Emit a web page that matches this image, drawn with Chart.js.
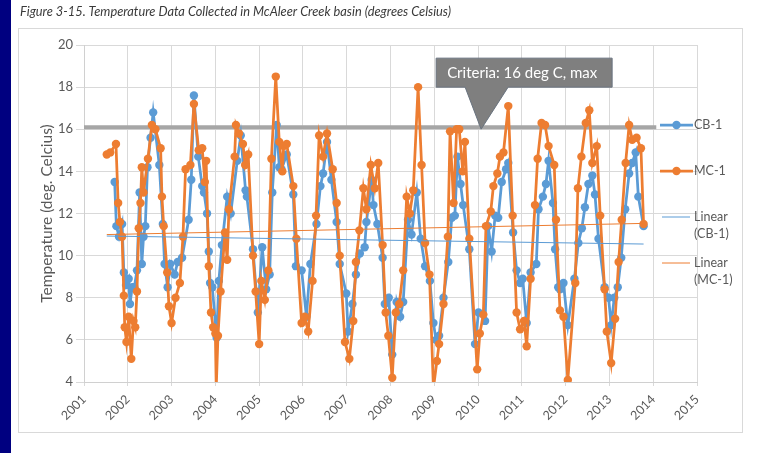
<!DOCTYPE html>
<html>
<head>
<meta charset="utf-8">
<title>McAleer Creek temperature</title>
<script src="https://cdn.jsdelivr.net/npm/chart.js@4.4.1/dist/chart.umd.min.js"></script>
<style>
    html,body{ margin:0; padding:0; background:#ffffff; }
    #tempChart{ display:block; }
</style>
</head>
<body>
<canvas id="tempChart" width="783" height="453"></canvas>
<script>
/* ===========================
   DATA
=========================== */

const figureTitle = "Figure 3-15. Temperature Data Collected in McAleer Creek basin (degrees Celsius)";

const yAxisTitle = "Temperature (deg. Celcius)";

const xTickLabels = ["2001","2002","2003","2004","2005","2006","2007","2008","2009","2010","2011","2012","2013","2014","2015"];

const seriesLabels = ["CB-1","MC-1","Linear (CB-1)","Linear (MC-1)"];

// CB-1 (blue)
const cbYears = [
    2001.70,2001.74,2001.80,2001.87,2001.91,2001.96,2002.02,2002.05,2002.10,2002.15,
    2002.21,2002.27,2002.32,2002.36,2002.40,2002.45,2002.52,2002.58,2002.72,2002.80,
    2002.84,2002.91,2002.97,2003.07,2003.14,2003.24,2003.39,2003.45,2003.51,2003.61,
    2003.70,2003.74,2003.81,2003.85,2003.88,2003.93,2004.03,2004.08,2004.15,2004.27,
    2004.35,2004.50,2004.58,2004.69,2004.72,2004.86,2004.97,2005.07,2005.16,2005.24,
    2005.30,2005.40,2005.46,2005.51,2005.63,2005.78,2005.84,2005.97,2006.08,2006.17,
    2006.31,2006.40,2006.46,2006.55,2006.65,2006.77,2006.84,2006.99,2007.03,2007.13,
    2007.21,2007.30,2007.41,2007.45,2007.57,2007.61,2007.70,2007.82,2007.87,2007.96,
    2008.04,2008.14,2008.22,2008.29,2008.40,2008.48,2008.60,2008.69,2008.79,2008.90,
    2008.98,2009.04,2009.11,2009.21,2009.32,2009.40,2009.47,2009.53,2009.60,2009.66,
    2009.80,2009.93,2010.01,2010.16,2010.23,2010.31,2010.39,2010.46,2010.54,2010.64,
    2010.69,2010.80,2010.88,2010.96,2011.02,2011.11,2011.20,2011.33,2011.38,2011.48,
    2011.55,2011.61,2011.71,2011.76,2011.83,2011.87,2011.95,2012.05,2012.20,2012.29,
    2012.37,2012.44,2012.52,2012.61,2012.67,2012.75,2012.89,2012.98,2013.04,2013.11,
    2013.19,2013.27,2013.36,2013.45,2013.52,2013.60,2013.66,2013.78
];

const cbTemps = [
    13.5,11.4,10.9,11.5,9.2,8.6,8.9,7.7,8.5,8.5,
    9.3,13.0,9.6,10.9,11.4,14.2,15.6,16.8,14.3,11.5,
    9.6,8.5,9.6,9.1,9.7,9.9,11.7,13.6,17.6,14.7,
    13.3,13.0,12.0,10.2,8.7,8.5,6.1,8.8,10.5,12.8,
    12.0,14.5,15.7,13.1,12.8,10.3,7.3,10.4,8.4,9.1,
    13.0,16.2,14.2,14.1,14.8,12.9,9.5,9.3,7.1,9.6,
    11.5,13.3,13.9,15.4,13.6,11.6,9.6,8.2,6.4,7.7,
    9.1,10.1,10.4,11.6,13.6,12.4,11.5,9.9,7.7,8.0,
    5.3,7.8,7.1,7.8,11.7,11.0,13.0,10.8,9.5,8.8,
    6.8,6.0,6.2,8.0,9.7,11.8,11.9,14.7,13.4,12.4,
    10.3,5.8,7.3,6.9,11.4,10.2,11.9,11.8,13.5,14.1,
    14.4,11.1,9.3,8.7,8.9,6.8,9.2,9.6,12.2,12.8,
    13.4,14.5,12.5,10.3,8.5,8.4,8.7,6.7,8.9,10.6,
    11.3,12.3,13.4,13.8,12.9,10.8,8.5,8.0,6.7,8.0,
    8.5,9.9,12.2,13.9,14.4,14.9,12.8,11.4
];

// MC-1 (orange)
const mcYears = [
    2001.52,2001.60,2001.73,2001.78,2001.82,2001.87,2001.91,2001.93,2001.97,2002.02,
    2002.08,2002.13,2002.17,2002.21,2002.25,2002.29,2002.32,2002.36,2002.46,2002.55,
    2002.63,2002.75,2002.78,2002.82,2002.90,2002.94,2003.00,2003.09,2003.19,2003.26,
    2003.32,2003.43,2003.51,2003.62,2003.70,2003.76,2003.79,2003.85,2003.90,2003.95,
    2004.00,2004.02,2004.06,2004.12,2004.22,2004.27,2004.31,2004.44,2004.47,2004.54,
    2004.63,2004.68,2004.75,2004.86,2004.92,2005.00,2005.05,2005.13,2005.21,2005.28,
    2005.38,2005.46,2005.53,2005.56,2005.63,2005.78,2005.85,2005.97,2006.04,2006.12,
    2006.22,2006.30,2006.37,2006.46,2006.55,2006.68,2006.77,2006.84,2006.96,2007.06,
    2007.15,2007.21,2007.29,2007.38,2007.45,2007.55,2007.64,2007.72,2007.82,2007.89,
    2007.95,2008.04,2008.12,2008.20,2008.29,2008.37,2008.44,2008.52,2008.63,2008.71,
    2008.79,2008.89,2008.98,2009.06,2009.11,2009.21,2009.31,2009.36,2009.44,2009.51,
    2009.57,2009.65,2009.70,2009.80,2009.98,2010.04,2010.12,2010.18,2010.29,2010.35,
    2010.44,2010.50,2010.58,2010.69,2010.79,2010.88,2010.96,2011.05,2011.11,2011.20,
    2011.30,2011.36,2011.45,2011.53,2011.61,2011.74,2011.78,2011.87,2011.95,2012.05,
    2012.22,2012.28,2012.36,2012.46,2012.54,2012.61,2012.71,2012.79,2012.89,2012.94,
    2013.04,2013.13,2013.21,2013.28,2013.37,2013.45,2013.52,2013.62,2013.72,2013.78
];

const mcTemps = [
    14.8,14.9,15.3,12.5,11.6,10.9,8.1,6.6,5.9,7.1,
    5.1,6.9,6.6,8.3,11.3,12.5,14.2,13.0,14.6,16.2,
    16.0,15.1,12.8,11.4,9.2,7.6,6.8,8.0,8.7,10.9,
    14.1,14.3,17.2,15.0,15.1,13.5,14.5,9.5,7.3,6.6,
    6.3,3.7,6.2,8.3,11.1,9.8,12.2,14.7,16.2,15.8,
    15.3,14.3,14.8,10.0,8.3,5.8,8.8,7.9,9.3,14.6,
    18.5,15.4,14.0,15.2,15.3,13.3,10.8,6.8,7.1,6.4,
    8.8,11.9,15.7,14.7,15.8,14.1,12.5,10.0,5.9,5.1,
    6.9,9.7,11.2,13.2,12.2,14.3,13.2,14.4,10.5,7.3,
    6.2,4.2,7.3,7.7,9.3,12.8,12.0,13.1,18.0,14.3,
    10.6,9.1,3.7,5.0,5.8,7.7,10.9,15.9,12.5,16.0,
    16.0,14.0,15.4,10.8,4.6,6.3,7.2,11.4,12.1,13.3,
    13.9,14.7,14.9,17.1,11.9,7.3,6.5,6.9,5.7,8.9,
    12.4,14.6,16.3,16.2,15.2,14.3,11.7,7.4,7.1,4.1,
    8.7,13.2,14.7,16.3,16.9,14.4,15.2,11.9,8.4,6.4,
    4.9,7.0,9.7,11.7,14.4,16.2,15.5,15.6,15.1,11.5
];

// linear trend end points
const trendYears = [2001.52,2013.78];

const cbTrend = [10.93,10.55];

const mcTrend = [11.00,11.53];

// 16 deg C criteria line
const criteriaYears = [2001,2014.07];

const criteriaTemps = [16.1,16.1];

const criteriaText = "Criteria: 16 deg C, max";

const criteriaTip = [2010.07,16.1];

/* ===========================
   COLORS / FONT
=========================== */

const BLUE = "#5b9bd5";

const ORANGE = "#ed7d31";

const GREY_TEXT = "#595959";

const FONT = "Lato, 'Open Sans', sans-serif";

function toPoints(xs,ys){

    return xs.map((x,i)=>({x:x,y:ys[i]}));

}

/* ===========================
   BACKDROP PLUGIN
=========================== */

const backdrop = {

    id:"backdrop",

    beforeDraw(chart){

        const ctx = chart.ctx;

        ctx.save();

        ctx.fillStyle = "#ffffff";
        ctx.fillRect(0,0,chart.width,chart.height);

        // blue page edge
        ctx.fillStyle = "#000080";
        ctx.fillRect(0,0,11,chart.height);

        // chart frame
        ctx.strokeStyle = "#d9d9d9";
        ctx.lineWidth = 1;
        ctx.strokeRect(18.5,28.5,724,404);

        // figure caption
        ctx.fillStyle = "#3a3a3a";
        ctx.font = "italic 12.8px " + FONT;
        ctx.textBaseline = "middle";
        ctx.textAlign = "left";
        ctx.fillText(figureTitle,20,12);

        ctx.restore();

    }

};

/* ===========================
   CALLOUT + LEGEND PLUGIN
=========================== */

const extras = {

    id:"extras",

    afterDraw(chart){

        const ctx = chart.ctx;

        const xs = chart.scales.x;

        const ys = chart.scales.y;

        // criteria callout, anchored on the line
        const tx = xs.getPixelForValue(criteriaTip[0]);

        const ty = ys.getPixelForValue(criteriaTip[1]) + 2;

        const bl = tx - 45, br = tx + 131, bt = ty - 71, bb = ty - 42;

        ctx.save();

        ctx.beginPath();
        ctx.moveTo(bl,bt);
        ctx.lineTo(br,bt);
        ctx.lineTo(br,bb);
        ctx.lineTo(tx + 27,bb);
        ctx.lineTo(tx,ty);
        ctx.lineTo(tx - 16,bb);
        ctx.lineTo(bl,bb);
        ctx.closePath();

        ctx.fillStyle = "#7f7f7f";
        ctx.fill();

        ctx.strokeStyle = "#6a7480";
        ctx.lineWidth = 1;
        ctx.stroke();

        ctx.fillStyle = "#ffffff";
        ctx.font = "15px " + FONT;
        ctx.textAlign = "left";
        ctx.textBaseline = "middle";
        ctx.fillText(criteriaText,bl + 11,(bt + bb)/2 + 1);

        // legend on the right
        const rows = [

            {ds:0, y:125, marker:true},

            {ds:1, y:171, marker:true},

            {ds:2, y:217, marker:false},

            {ds:3, y:263, marker:false}

        ];

        ctx.font = "12.5px " + FONT;

        rows.forEach(r=>{

            const d = chart.data.datasets[r.ds];

            ctx.strokeStyle = d.borderColor;

            ctx.lineWidth = r.marker ? 2.75 : 1;

            ctx.beginPath();
            ctx.moveTo(r.marker ? 660 : 662, r.y);
            ctx.lineTo(r.marker ? 693 : 690, r.y);
            ctx.stroke();

            if(r.marker){

                ctx.fillStyle = d.borderColor;
                ctx.beginPath();
                ctx.arc(676.5,r.y,4.2,0,Math.PI*2);
                ctx.fill();

            }

            ctx.fillStyle = GREY_TEXT;

            const parts = d.label.split(" ");

            parts.forEach((p,i)=>{

                ctx.fillText(p,694,r.y + i*17);

            });

        });

        ctx.restore();

    }

};

/* ===========================
   CHART
=========================== */

const canvas = document.getElementById("tempChart");

const tempChart = new Chart(

    canvas,

    {

        type:"line",

        data:{

            datasets:[

                {
                    label:seriesLabels[0],
                    data:toPoints(cbYears,cbTemps),
                    borderColor:BLUE,
                    backgroundColor:BLUE,
                    pointBackgroundColor:BLUE,
                    pointBorderWidth:0,
                    pointRadius:4.2,
                    borderWidth:2.75,
                    tension:0,
                    order:2
                },

                {
                    label:seriesLabels[1],
                    data:toPoints(mcYears,mcTemps),
                    borderColor:ORANGE,
                    backgroundColor:ORANGE,
                    pointBackgroundColor:ORANGE,
                    pointBorderWidth:0,
                    pointRadius:4.2,
                    borderWidth:2.75,
                    tension:0,
                    order:1
                },

                {
                    label:seriesLabels[2],
                    data:toPoints(trendYears,cbTrend),
                    borderColor:BLUE,
                    borderWidth:1,
                    pointRadius:0,
                    order:0
                },

                {
                    label:seriesLabels[3],
                    data:toPoints(trendYears,mcTrend),
                    borderColor:ORANGE,
                    borderWidth:1,
                    pointRadius:0,
                    order:0
                },

                {
                    label:"Criteria",
                    data:toPoints(criteriaYears,criteriaTemps),
                    borderColor:"#a6a6a6",
                    borderWidth:4,
                    pointRadius:0,
                    order:5
                }

            ]

        },

        options:{

            responsive:false,

            animation:false,

            devicePixelRatio:1,

            layout:{

                padding:{left:38, right:86, top:45, bottom:21}

            },

            plugins:{

                legend:{display:false},

                tooltip:{enabled:false}

            },

            scales:{

                x:{

                    type:"linear",

                    min:2001,

                    max:2015,

                    afterFit(scale){ scale.height = 50; },

                    afterBuildTicks(scale){

                        scale.ticks = xTickLabels.map(t=>({value:Number(t)}));

                    },

                    ticks:{

                        autoSkip:false,

                        minRotation:45,

                        maxRotation:45,

                        padding:6,

                        color:GREY_TEXT,

                        font:{family:FONT, size:12.5},

                        callback:(v,i)=>xTickLabels[i]

                    },

                    grid:{

                        color:"#d9d9d9",

                        tickLength:4

                    },

                    border:{color:"#d0d0d0"}

                },

                y:{

                    min:4,

                    max:20,

                    afterFit(scale){ scale.width = 46; },

                    ticks:{

                        stepSize:2,

                        padding:3,

                        color:GREY_TEXT,

                        font:{family:FONT, size:13}

                    },

                    grid:{

                        color:"#d9d9d9",

                        tickLength:8

                    },

                    border:{color:"#d0d0d0"},

                    title:{

                        display:true,

                        text:yAxisTitle,

                        color:GREY_TEXT,

                        padding:{top:0, bottom:0},

                        font:{family:FONT, size:15.5}

                    }

                }

            }

        },

        plugins:[backdrop,extras]

    }

);
</script>
</body>
</html>
